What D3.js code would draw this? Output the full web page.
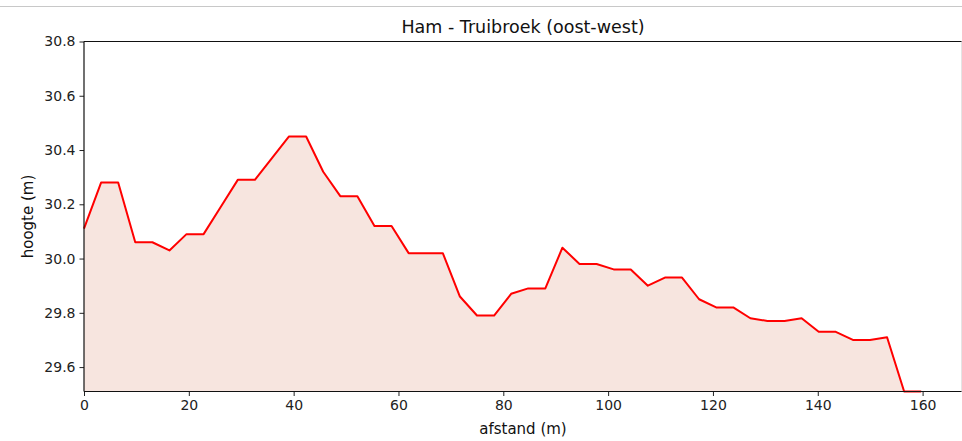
<html>

<head>
    <meta charset="utf-8">
    <script src="https://d3js.org/d3.v7.min.js"></script>
</head>

<body style="margin:0;background:#fff">
    <script>

        // afstand (m)
        var afstand = [0, 3.26, 6.52, 9.78, 13.04, 16.3, 19.56, 22.82, 26.08, 29.34,
            32.6, 35.86, 39.12, 42.38, 45.64, 48.9, 52.16, 55.42, 58.68, 61.94,
            65.2, 68.46, 71.72, 74.98, 78.24, 81.5, 84.76, 88.02, 91.28, 94.54,
            97.8, 101.06, 104.32, 107.58, 110.84, 114.1, 117.36, 120.62, 123.88, 127.14,
            130.4, 133.66, 136.92, 140.18, 143.44, 146.7, 149.96, 153.22, 156.48, 159.74];
        // hoogte (m)
        var hoogte = [30.11, 30.28, 30.28, 30.06, 30.06, 30.03, 30.09, 30.09, 30.19, 30.29,
            30.29, 30.37, 30.45, 30.45, 30.32, 30.23, 30.23, 30.12, 30.12, 30.02,
            30.02, 30.02, 29.86, 29.79, 29.79, 29.87, 29.89, 29.89, 30.04, 29.98,
            29.98, 29.96, 29.96, 29.90, 29.93, 29.93, 29.85, 29.82, 29.82, 29.78,
            29.77, 29.77, 29.78, 29.73, 29.73, 29.70, 29.70, 29.71, 29.51, 29.51];
        var xTicks = [0, 20, 40, 60, 80, 100, 120, 140, 160];
        var yTicks = [29.6, 29.8, 30.0, 30.2, 30.4, 30.6, 30.8];

        var width = 962;
        var height = 441;
        // let op: "top" is een gereserveerde globale naam in de browser
        var padLeft = 84, padRight = 964, padTop = 41.5, padBottom = 391.5;

        var svg = d3.select("body").append("svg").attr("width", width).attr("height", height)
            .style("display", "block")
            .style("font-family", "DejaVu Sans");

        // grijze lijn bovenaan
        svg.append("line").attr("x1", 0).attr("x2", width).attr("y1", 6.5).attr("y2", 6.5)
            .attr("stroke", "#c8c8c8").attr("stroke-width", 1);

        var xScale = d3.scaleLinear().domain([0, 167.9]).range([padLeft, padRight]);
        var yScale = d3.scaleLinear().domain([29.51, 30.8]).range([padBottom, padTop]);

        var data = afstand.map(function(d, i) { return { x: d, y: hoogte[i] }; });

        // vlak
        var area = d3.area()
            .x(function(d) { return xScale(d.x); })
            .y0(yScale(29.51))
            .y1(function(d) { return yScale(d.y); });
        svg.append("path").datum(data).attr("d", area).attr("fill", "#f7e5df");

        var line = d3.line()
            .x(function(d) { return xScale(d.x); })
            .y(function(d) { return yScale(d.y); });
        svg.append("path").datum(data).attr("d", line)
            .attr("fill", "none").attr("stroke", "#ff0000").attr("stroke-width", 2)
            .attr("stroke-linejoin", "round");

        // assen
        var xAxis = svg.append("g")
            .attr("transform", "translate(0," + padBottom + ")")
            .call(d3.axisBottom(xScale).tickValues(xTicks).tickSize(4.5).tickPadding(4).tickFormat(d3.format("d")));
        var yAxis = svg.append("g")
            .attr("transform", "translate(" + padLeft + ",0)")
            .call(d3.axisLeft(yScale).tickValues(yTicks).tickSize(4.5).tickPadding(4).tickFormat(d3.format(".1f")));
        [xAxis, yAxis].forEach(function(g) {
            g.selectAll("text").attr("font-size", 14).attr("font-family", "DejaVu Sans").attr("fill", "#222");
            g.selectAll("line").attr("stroke", "#222");
            g.select(".domain").remove();
        });

        // kaderlijnen
        svg.append("line").attr("x1", padLeft).attr("x2", width).attr("y1", padTop).attr("y2", padTop)
            .attr("stroke", "#111").attr("stroke-width", 1.2);
        svg.append("line").attr("x1", padLeft).attr("x2", width).attr("y1", padBottom).attr("y2", padBottom)
            .attr("stroke", "#111").attr("stroke-width", 1.2);
        svg.append("line").attr("x1", padLeft).attr("x2", padLeft).attr("y1", padTop).attr("y2", padBottom)
            .attr("stroke", "#111").attr("stroke-width", 1.2);
        svg.append("line").attr("x1", 961.5).attr("x2", 961.5).attr("y1", padTop).attr("y2", padBottom)
            .attr("stroke", "#e4e4e4").attr("stroke-width", 1);

        // titels
        svg.append("text").attr("x", (padLeft + 962) / 2).attr("y", 32.5)
            .attr("text-anchor", "middle").attr("font-size", 17.5).attr("fill", "#111")
            .text("Ham - Truibroek (oost-west)");
        svg.append("text").attr("x", (padLeft + 962) / 2).attr("y", 434)
            .attr("text-anchor", "middle").attr("font-size", 15).attr("fill", "#111")
            .text("afstand (m)");
        svg.append("text")
            .attr("transform", "translate(33," + (padTop + padBottom) / 2 + ") rotate(-90)")
            .attr("text-anchor", "middle").attr("font-size", 15).attr("fill", "#111")
            .text("hoogte (m)");
    </script>
</body>

</html>
